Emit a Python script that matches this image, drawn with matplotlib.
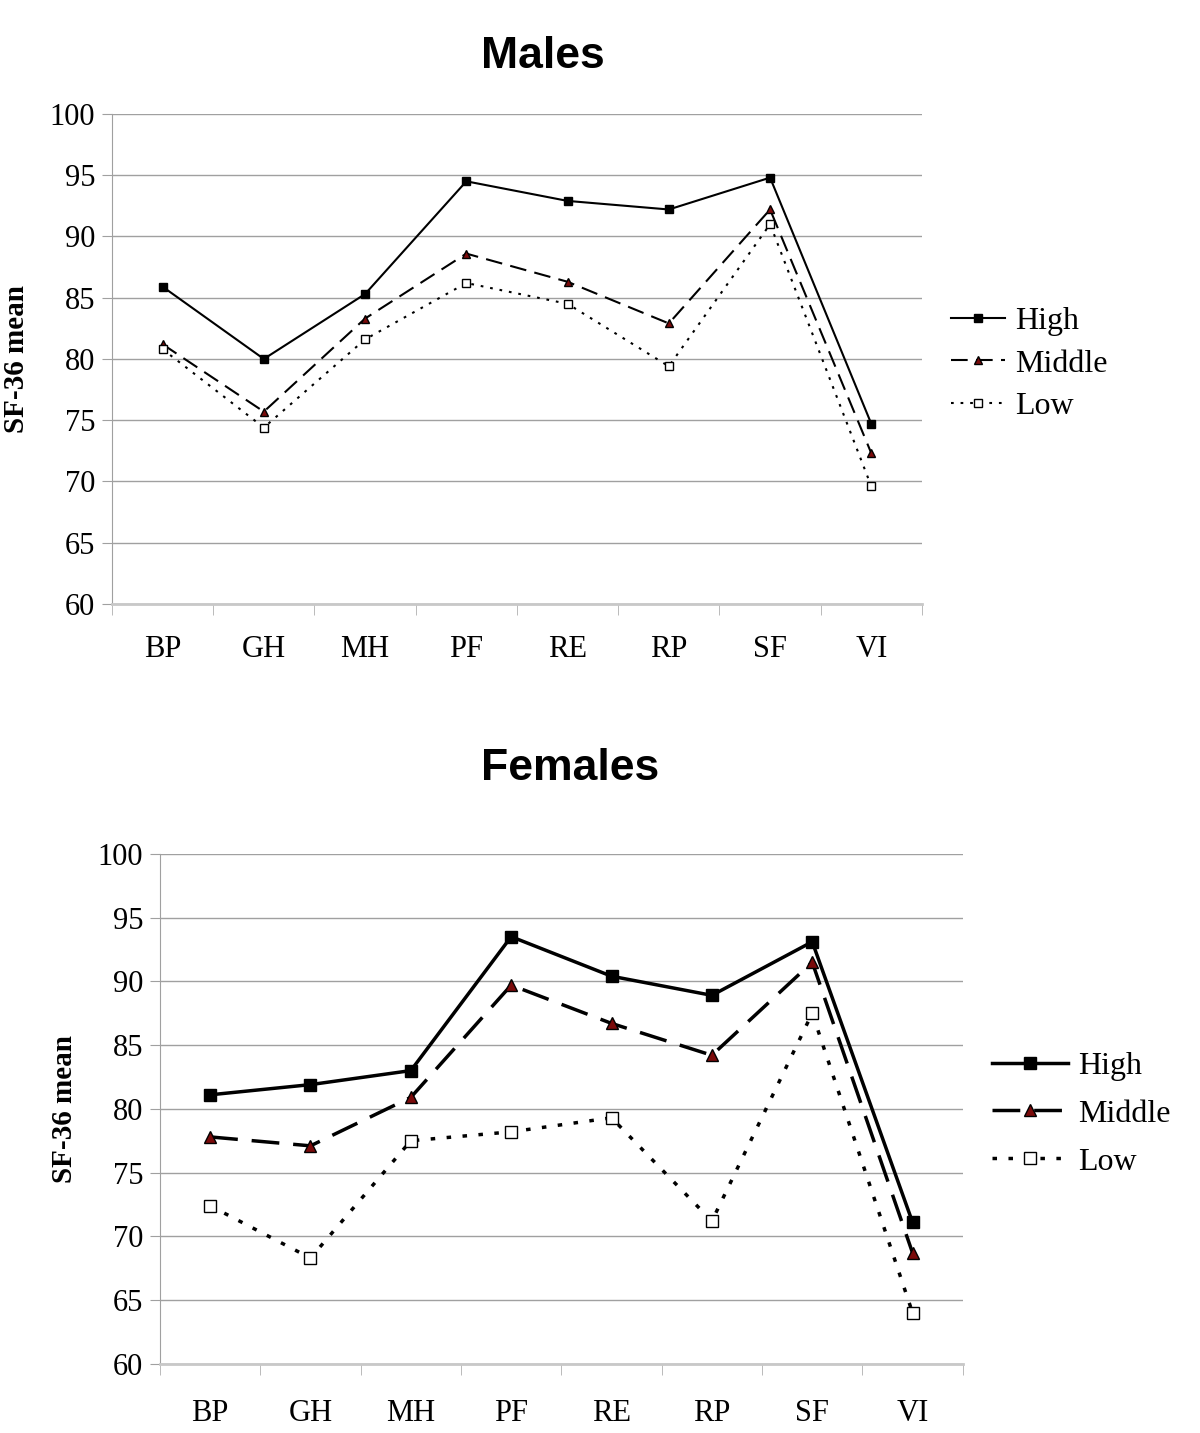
import matplotlib.pyplot as plt
import numpy as np

categories = ['BP', 'GH', 'MH', 'PF', 'RE', 'RP', 'SF', 'VI']
groups = ['High', 'Middle', 'Low']

males_high = [85.9, 80.0, 85.3, 94.5, 92.9, 92.2, 94.8, 74.7]
males_middle = [81.2, 75.7, 83.3, 88.6, 86.3, 82.9, 92.2, 72.3]
males_low = [80.8, 74.4, 81.6, 86.2, 84.5, 79.4, 91.0, 69.6]

females_high = [81.1, 81.9, 83.0, 93.5, 90.4, 88.9, 93.1, 71.1]
females_middle = [77.8, 77.1, 80.9, 89.7, 86.7, 84.2, 91.5, 68.7]
females_low = [72.4, 68.3, 77.5, 78.2, 79.3, 71.2, 87.5, 64.0]

yticks = list(range(60, 101, 5))

serif = 'Liberation Serif'
sans = 'Liberation Sans'

styles = {
    'High': dict(linestyle='-', marker='s', markerfacecolor='black', markeredgecolor='black'),
    'Middle': dict(linestyle=(0, (8, 4)), marker='^', markerfacecolor='#7a0a0a', markeredgecolor='black'),
    'Low': dict(linestyle=(0, (1.3, 3.3)), marker='s', markerfacecolor='white', markeredgecolor='black'),
}


def draw_panel(ax, series, lw, ms, fs, handlelen, spacing, xpad):
    x = np.arange(len(categories))
    for name, vals in zip(groups, series):
        st = styles[name]
        ax.plot(x, vals, color='black', linewidth=lw, markersize=ms,
                markeredgewidth=1.0, label=name, **st)
    ax.set_xlim(-0.5, len(categories) - 0.5)
    ax.set_ylim(60, 100)
    ax.set_yticks(yticks)
    ax.set_yticklabels([str(v) for v in yticks], fontfamily=serif, fontsize=fs)
    ax.set_xticks(x)
    ax.set_xticklabels(categories, fontfamily=serif, fontsize=fs)
    ax.set_xticks(np.arange(-0.5, len(categories)), minor=True)
    ax.tick_params(axis='x', which='major', length=0, pad=xpad)
    ax.tick_params(axis='x', which='minor', length=8, color='#b0b0b0', direction='out')
    ax.tick_params(axis='y', length=7, color='#a0a0a0', direction='out', pad=5)
    ax.grid(True, axis='y', color='#a0a0a0', linewidth=1.0)
    ax.set_axisbelow(True)
    for s in ['top', 'right']:
        ax.spines[s].set_visible(False)
    ax.spines['left'].set_color('#a0a0a0')
    ax.spines['bottom'].set_color('#c8c8c8')
    ax.spines['bottom'].set_linewidth(2.0)
    ax.set_ylabel('SF-36 mean', fontfamily=serif, fontsize=fs - 1, fontweight='bold',
                  labelpad=14)
    ax.legend(loc='center left', bbox_to_anchor=(1.02, 0.49), frameon=False,
              prop={'family': serif, 'size': fs + 1}, handlelength=handlelen,
              labelspacing=spacing, handletextpad=0.3, borderaxespad=0.0)


fig = plt.figure(figsize=(12, 14.33), dpi=100)

ax1 = fig.add_axes([0.0933, 0.5785, 0.675, 0.342])
draw_panel(ax1, [males_high, males_middle, males_low], 1.5, 6, 22, 1.7, 0.42, 22)
fig.text(543 / 1200, 1 - 56 / 1433, 'Males', fontfamily=sans, fontsize=32,
         fontweight='bold', ha='center', va='center')

ax2 = fig.add_axes([0.1333, 0.0482, 0.669, 0.356])
draw_panel(ax2, [females_high, females_middle, females_low], 2.5, 9, 22, 2.4, 0.58, 25)
fig.text(570 / 1200, 1 - 769 / 1433, 'Females', fontfamily=sans, fontsize=32,
         fontweight='bold', ha='center', va='center')

fig.savefig('out.png', dpi=100)
